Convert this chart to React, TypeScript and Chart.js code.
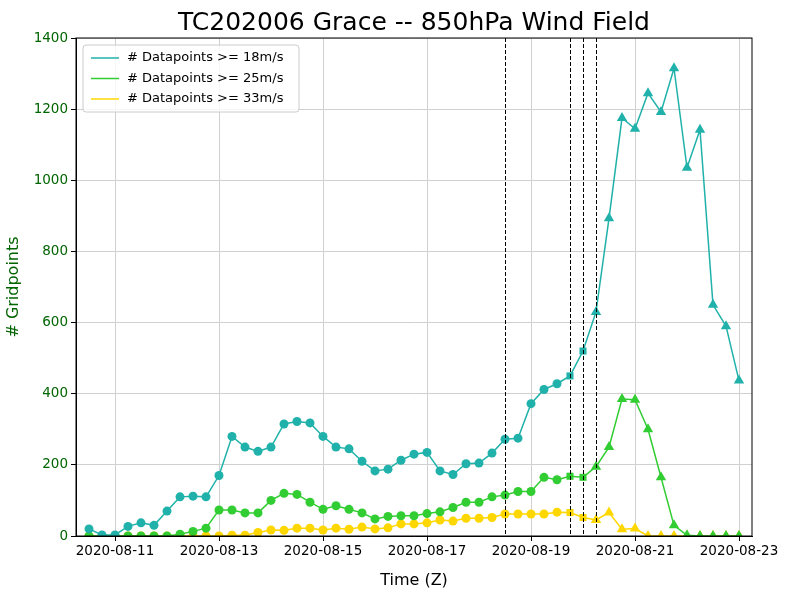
import React, { useEffect, useRef } from 'react';
import { Chart, ChartConfiguration, registerables } from 'chart.js';

Chart.register(...registerables);

// hours since 2020-08-10 12Z, one point every 6h
const hours: number[] = Array.from({ length: 51 }, (_, i) => i * 6);

const n18: number[] = [20, 3, 3, 27, 37, 30, 70, 110, 112, 110, 170, 280, 250, 238, 250, 315, 322, 318, 280, 250,
  245, 210, 183, 188, 213, 230, 235, 183, 173, 203, 205, 233, 272, 275, 372, 412, 428, 450, 520, 630,
  893, 1175, 1145, 1245, 1192, 1315, 1035, 1142, 650, 590, 437];
const n25: number[] = [0, 0, 0, 0, 0, 0, 0, 5, 13, 22, 73, 73, 65, 65, 100, 120, 117, 95, 75, 85,
  75, 65, 48, 55, 57, 57, 63, 68, 80, 95, 95, 110, 115, 125, 125, 165, 158, 168, 165, 195,
  250, 385, 383, 300, 165, 30, 2, 0, 0, 0, 0];
const n33: number[] = [0, 0, 0, 0, 0, 0, 0, 0, 0, 0, 0, 2, 2, 10, 17, 16, 22, 22, 17, 22,
  19, 25, 20, 23, 34, 34, 37, 45, 42, 50, 50, 52, 62, 62, 62, 62, 67, 66, 52, 45,
  66, 19, 21, 0, 0, 0, 0, 0, 0, 0, 0];

const markerHours: number[] = [192, 222, 228, 234];
const xTickHours: number[] = [12, 60, 108, 156, 204, 252, 300];
const xTickLabels: string[] = ['2020-08-11', '2020-08-13', '2020-08-15', '2020-08-17', '2020-08-19', '2020-08-21', '2020-08-23'];
const seriesNames: string[] = ['# Datapoints >= 18m/s', '# Datapoints >= 25m/s', '# Datapoints >= 33m/s'];
const seriesColors: string[] = ['#20b2aa', '#32cd32', '#ffd700'];

const FONT = 'DejaVu Sans';
const styles = hours.map((_, i) => (i <= 36 ? 'circle' : i <= 38 ? 'rect' : 'triangle'));
const radii = styles.map((s) => (s === 'circle' ? 4.5 : s === 'rect' ? 5 : 6));

const overlay = {
  id: 'overlay',
  afterDatasetsDraw(chart: Chart) {
    const { ctx, chartArea, scales } = chart;
    ctx.save();
    // vertical dashed markers
    ctx.strokeStyle = '#000';
    ctx.lineWidth = 1;
    ctx.setLineDash([4, 2]);
    markerHours.forEach((h) => {
      const x = Math.round(scales.x.getPixelForValue(h)) + 0.5;
      ctx.beginPath();
      ctx.moveTo(x, chartArea.top);
      ctx.lineTo(x, chartArea.bottom);
      ctx.stroke();
    });
    ctx.setLineDash([]);
    // frame
    ctx.strokeRect(chartArea.left, chartArea.top, chartArea.right - chartArea.left, chartArea.bottom - chartArea.top);
    // legend box
    const lx = chartArea.left + 7, ly = chartArea.top + 7;
    ctx.fillStyle = 'rgba(255,255,255,0.8)';
    ctx.strokeStyle = '#cccccc';
    ctx.beginPath();
    ctx.roundRect(lx, ly, 216, 67, 3);
    ctx.fill();
    ctx.stroke();
    ctx.font = `13px ${FONT}`;
    ctx.textBaseline = 'middle';
    seriesNames.forEach((name, i) => {
      const y = ly + 13 + i * 20.5;
      ctx.strokeStyle = seriesColors[i];
      ctx.lineWidth = 1.5;
      ctx.beginPath();
      ctx.moveTo(lx + 8, y);
      ctx.lineTo(lx + 36, y);
      ctx.stroke();
      ctx.fillStyle = '#000';
      ctx.fillText(name, lx + 44, y);
    });
    // title
    ctx.font = `25px ${FONT}`;
    ctx.textAlign = 'center';
    ctx.textBaseline = 'alphabetic';
    ctx.fillText('TC202006 Grace -- 850hPa Wind Field', (chartArea.left + chartArea.right) / 2, 30);
    ctx.restore();
  },
};

const App: React.FC = () => {
  const canvasRef = useRef<HTMLCanvasElement>(null);
  const chartRef = useRef<Chart | null>(null);

  useEffect(() => {
    document.body.style.margin = '0';
    if (!canvasRef.current) return;
    const mk = (data: number[], i: number) => ({
      label: seriesNames[i],
      data: hours.map((h, k) => ({ x: h, y: data[k] })),
      borderColor: seriesColors[i],
      backgroundColor: seriesColors[i],
      borderWidth: 1.5,
      pointStyle: styles,
      pointRadius: radii,
      pointBorderWidth: 0,
    });
    const config: ChartConfiguration<'line'> = {
      type: 'line',
      data: { datasets: [mk(n18, 0), mk(n25, 1), mk(n33, 2)] as any },
      options: {
        animation: false,
        responsive: false,
        layout: { padding: { top: 38, right: 36, left: 0, bottom: 0 } },
        plugins: { legend: { display: false }, tooltip: { enabled: false } },
        scales: {
          x: {
            type: 'linear',
            min: -6,
            max: 306,
            afterBuildTicks: (s: any) => { s.ticks = xTickHours.map((v) => ({ value: v })); },
            afterFit: (s: any) => { s.height = 54; },
            ticks: {
              color: '#000',
              font: { family: FONT, size: 13.5 },
              maxRotation: 0,
              autoSkip: false,
              padding: 2,
              callback: (v: any) => xTickLabels[xTickHours.indexOf(Number(v))] ?? '',
            },
            grid: { color: '#d0d0d0', tickLength: 5, tickColor: '#000' },
            border: { color: '#000' },
            title: { display: true, text: 'Time (Z)', color: '#000', font: { family: FONT, size: 16 }, padding: { top: 0, bottom: 0 } },
          },
          y: {
            min: 0,
            max: 1400,
            afterFit: (s: any) => { s.width = 76; },
            ticks: {
              stepSize: 200,
              color: '#006400',
              font: { family: FONT, size: 13.5 },
              callback: (v: any) => String(v),
            },
            grid: { color: '#d0d0d0', tickLength: 5, tickColor: '#000' },
            border: { color: '#000' },
            title: { display: true, text: '# Gridpoints', color: '#006400', font: { family: FONT, size: 16 } },
          },
        },
      },
      plugins: [overlay],
    };
    chartRef.current = new Chart(canvasRef.current, config);
    return () => {
      chartRef.current?.destroy();
    };
  }, []);

  return <canvas ref={canvasRef} width={788} height={590} style={{ display: 'block' }} />;
};

export default App;
